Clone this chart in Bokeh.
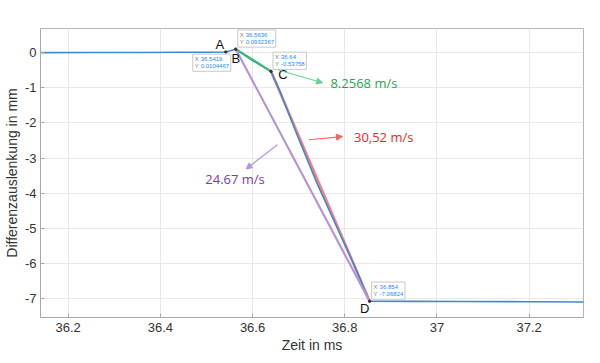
from bokeh.plotting import figure
from bokeh.models import Range1d, FixedTicker, Arrow, NormalHead, ColumnDataSource
from bokeh.core.properties import value
from bokeh.embed import file_html
from bokeh.resources import INLINE

# ---- data ----
t_meas = [36.14, 36.25, 36.35, 36.45, 36.5, 36.5419, 36.5636, 36.60, 36.64,
          36.66, 36.70, 36.74, 36.78, 36.82, 36.854, 36.95, 37.05, 37.2, 37.32]
y_meas = [-0.005, -0.003, 0.0, 0.004, 0.006, 0.0104, 0.0932, -0.23, -0.5376,
          -1.12, -2.45, -3.72, -4.88, -6.02, -7.068, -7.072, -7.076, -7.082, -7.09]

# characteristic points A, B, C, D
pt_names = ["A", "B", "C", "D"]
pt_t = [36.5419, 36.5636, 36.64, 36.854]
pt_y = [0.0104467, 0.0932367, -0.53758, -7.06824]
tip_x = ["36.5419", "36.5636", "36.64", "36.854"]
tip_y = ["0.0104467", "0.0932367", "-0.53758", "-7.06824"]

# speed annotations
speed_text = ["8.2568 m/s", "30,52 m/s", "24.67 m/s"]
speed_col = ["#1fa652", "#ff1a1a", "#7a3aa8"]
arrow_col = ["#66d496", "#ff6060", "#b396d8"]
arr_x0 = [36.656, 36.722, 36.654]
arr_y0 = [-0.50, -2.48, -2.62]
arr_x1 = [36.752, 36.795, 36.586]
arr_y1 = [-0.86, -2.39, -3.31]
txt_x = [36.769, 36.820, 36.562]
txt_y = [-0.86, -2.39, -3.59]
txt_align = ["left", "left", "center"]

x_ticks = [36.2, 36.4, 36.6, 36.8, 37.0, 37.2]
x_labels = ["36.2", "36.4", "36.6", "36.8", "37", "37.2"]
y_ticks = [0, -1, -2, -3, -4, -5, -6, -7]
y_labels = ["0", "-1", "-2", "-3", "-4", "-5", "-6", "-7"]

p = figure(width=584, height=355, output_backend="svg", toolbar_location=None,
           x_range=Range1d(36.14, 37.318), y_range=Range1d(-7.53, 0.68),
           min_border_left=31, min_border_right=1, min_border_top=28,
           min_border_bottom=0)
p.background_fill_color = "white"
p.border_fill_color = "white"
p.outline_line_color = "#b5b5b5"
p.outline_line_width = 1

for ax in (p.xaxis[0], p.yaxis[0]):
    ax.axis_line_color = "#a8a8a8"
    ax.major_tick_line_color = "#a8a8a8"
    ax.major_tick_in = 4
    ax.major_tick_out = 0
    ax.minor_tick_line_color = None
    ax.major_label_text_font = "Liberation Sans"
    ax.major_label_text_font_size = "13px"
    ax.major_label_text_color = "#333333"
    ax.axis_label_text_font = "Liberation Sans"
    ax.axis_label_text_font_size = "14px"
    ax.axis_label_text_font_style = "normal"
    ax.axis_label_text_color = "#333333"
    ax.major_label_standoff = 4
    ax.axis_label_standoff = 2
p.xaxis.major_label_standoff = 5
p.xaxis.axis_label_standoff = 2

p.xaxis.ticker = FixedTicker(ticks=x_ticks)
p.xaxis.major_label_overrides = {t: l for t, l in zip(x_ticks, x_labels)}
p.yaxis.ticker = FixedTicker(ticks=y_ticks)
p.yaxis.major_label_overrides = {t: l for t, l in zip(y_ticks, y_labels)}
p.xaxis.axis_label = "Zeit in ms"
p.yaxis.axis_label = "Differenzauslenkung in mm"
p.grid.grid_line_color = "#e8e8e8"
p.grid.grid_line_width = 1

# fit lines
iA, iB, iC, iD = 0, 1, 2, 3
p.line([pt_t[iC], pt_t[iD]], [pt_y[iC], pt_y[iD]], line_color="#ff6e6e", line_width=2.6, line_alpha=0.9)
p.line(t_meas, y_meas, line_color="#3a8bd0", line_width=1.6)
p.line([pt_t[iB], pt_t[iC]], [pt_y[iB], pt_y[iC]], line_color="#3cb878", line_width=2.2)
p.line([pt_t[iB], pt_t[iD]], [pt_y[iB], pt_y[iD]], line_color="#b594d6", line_width=2.2)

# markers at points
p.scatter(pt_t, pt_y, size=2.5, color="#333333")

# arrows + speed text
for i in range(3):
    p.add_layout(Arrow(end=NormalHead(size=6, fill_color=arrow_col[i], line_color=arrow_col[i]),
                       x_start=arr_x0[i], y_start=arr_y0[i], x_end=arr_x1[i], y_end=arr_y1[i],
                       line_color=arrow_col[i], line_width=1.2))
    p.text([txt_x[i]], [txt_y[i]], text=[speed_text[i]], text_color=speed_col[i],
           text_font=value("Open Sans"), text_font_size="13px",
           text_align=txt_align[i], text_baseline="middle")

# point letters
lab_dx = [-6, 0, 12, -5]
lab_dy = [-8, 9, 3, 7]
src = ColumnDataSource(dict(t=pt_t, y=pt_y, name=pt_names, dx=lab_dx, dy=lab_dy))
p.text("t", "y", text="name", x_offset="dx", y_offset="dy", source=src,
       text_font=value("Liberation Sans"), text_font_size="13px", text_color="#111111",
       text_align="center", text_baseline="middle")

# data tips (box, gray X/Y labels, blue values)
anchors = ["top_left", "bottom_left", "bottom_left", "bottom_left"]
box_dx = [-33, 2, 2, 2]
box_dy = [2, -2, -2, -2]
for i in range(4):
    full = "X " + tip_x[i] + "\nY " + tip_y[i]
    common = dict(text_font=value("Liberation Sans"), text_font_size="6px",
                  anchor=anchors[i], y_offset=box_dy[i],
                  text_line_height=1.2, padding=(2, 2))
    p.text([pt_t[i]], [pt_y[i]], text=[full], text_alpha=0.0, x_offset=box_dx[i],
           background_fill_color="white", border_line_color="#c8c8c8", **common)
    p.text([pt_t[i]], [pt_y[i]], text=["X\nY"], text_color="#808080",
           x_offset=box_dx[i], **common)
    p.text([pt_t[i]], [pt_y[i]], text=[tip_x[i] + "\n" + tip_y[i]], text_color="#1e88ff",
           x_offset=box_dx[i] + 6, **common)

open("out.html", "w").write(file_html(p, INLINE))
